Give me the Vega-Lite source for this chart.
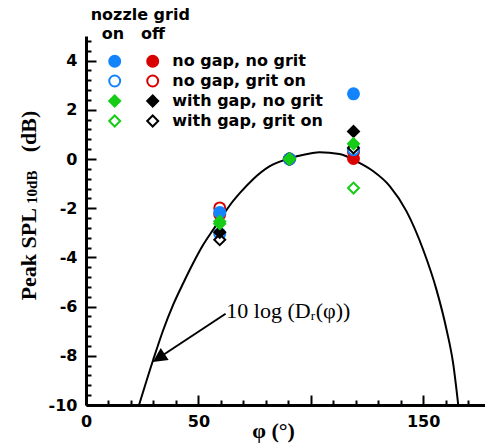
{
  "$schema": "https://vega.github.io/schema/vega-lite/v6.json",
  "width": 399,
  "height": 369,
  "autosize": {"type": "none"},
  "padding": {"left": 86, "top": 36, "right": 0, "bottom": 39},
  "background": "white",
  "config": {"view": {"stroke": null}, "font": "DejaVu Sans"},
  "datasets": {
    "curve": [
      {"phi": 23.6, "spl": -10.0},
      {"phi": 29.9, "spl": -8.16},
      {"phi": 34.4, "spl": -6.94},
      {"phi": 38.8, "spl": -5.92},
      {"phi": 43.3, "spl": -5.04},
      {"phi": 47.7, "spl": -4.23},
      {"phi": 52.2, "spl": -3.48},
      {"phi": 56.6, "spl": -2.87},
      {"phi": 60.0, "spl": -2.42},
      {"phi": 64.0, "spl": -1.88},
      {"phi": 68.5, "spl": -1.38},
      {"phi": 74.1, "spl": -0.84},
      {"phi": 81.6, "spl": -0.3},
      {"phi": 90.5, "spl": 0.02},
      {"phi": 97.4, "spl": 0.18},
      {"phi": 103.8, "spl": 0.27},
      {"phi": 112.7, "spl": 0.2},
      {"phi": 121.6, "spl": -0.16},
      {"phi": 127.8, "spl": -0.5},
      {"phi": 135.2, "spl": -1.11},
      {"phi": 142.6, "spl": -2.13},
      {"phi": 150.0, "spl": -3.69},
      {"phi": 155.9, "spl": -5.31},
      {"phi": 160.4, "spl": -6.94},
      {"phi": 163.3, "spl": -8.29},
      {"phi": 165.6, "spl": -10.0}
    ],
    "points": [
      {"phi": 59.5, "spl": -1.99, "series": "off: no gap, grit on"},
      {"phi": 90.5, "spl": 0.0, "series": "off: no gap, grit on"},
      {"phi": 119, "spl": 0.28, "series": "off: no gap, grit on"},
      {"phi": 59.5, "spl": -2.25, "series": "off: no gap, no grit"},
      {"phi": 90.5, "spl": 0.0, "series": "off: no gap, no grit"},
      {"phi": 119, "spl": 0.02, "series": "off: no gap, no grit"},
      {"phi": 59.5, "spl": -3.04, "series": "on: no gap, grit on"},
      {"phi": 90.5, "spl": 0.0, "series": "on: no gap, grit on"},
      {"phi": 119, "spl": 0.38, "series": "on: no gap, grit on"},
      {"phi": 59.5, "spl": -2.17, "series": "on: no gap, no grit"},
      {"phi": 90.5, "spl": 0.0, "series": "on: no gap, no grit"},
      {"phi": 119, "spl": 2.65, "series": "on: no gap, no grit"},
      {"phi": 59.5, "spl": -3.28, "series": "off: with gap, grit on"},
      {"phi": 90.5, "spl": 0.0, "series": "off: with gap, grit on"},
      {"phi": 119, "spl": 0.45, "series": "off: with gap, grit on"},
      {"phi": 59.5, "spl": -2.98, "series": "off: with gap, no grit"},
      {"phi": 90.5, "spl": 0.0, "series": "off: with gap, no grit"},
      {"phi": 119, "spl": 1.12, "series": "off: with gap, no grit"},
      {"phi": 59.5, "spl": -2.54, "series": "on: with gap, grit on"},
      {"phi": 90.5, "spl": 0.0, "series": "on: with gap, grit on"},
      {"phi": 119, "spl": -1.18, "series": "on: with gap, grit on"},
      {"phi": 59.5, "spl": -2.63, "series": "on: with gap, no grit"},
      {"phi": 90.5, "spl": 0.0, "series": "on: with gap, no grit"},
      {"phi": 119, "spl": 0.62, "series": "on: with gap, no grit"}
    ]
  },
  "layer": [
    {
      "data": {"name": "curve"},
      "mark": {"type": "line", "color": "black", "strokeWidth": 2, "interpolate": "monotone", "clip": true},
      "encoding": {
        "x": {
          "field": "phi",
          "type": "quantitative",
          "scale": {"domain": [0, 177.5], "nice": false, "zero": false},
          "axis": {
            "values": [0, 10, 20, 30, 40, 50, 60, 70, 80, 90, 100, 110, 120, 130, 140, 150, 160, 170],
            "tickCount": 200,
            "labelExpr": "datum.value == 0 || datum.value == 50 || datum.value == 150 ? '' + datum.value : ''",
            "labelFlush": false,
            "labelOverlap": false,
            "labelFont": "DejaVu Sans",
            "labelFontWeight": "bold",
            "labelFontSize": 16,
            "labelColor": "black",
            "labelPadding": 18,
            "tickSize": {"condition": {"test": "datum.value % 50 === 0", "value": -10}, "value": -5},
            "tickWidth": 2,
            "tickColor": "black",
            "domainWidth": 3,
            "domainColor": "black",
            "grid": false,
            "title": "φ (°)",
            "titleFont": "Liberation Serif",
            "titleFontSize": 22,
            "titleFontWeight": "bold",
            "titleColor": "black",
            "titleX": 187,
            "titleY": 32,
            "titleAlign": "center",
            "titleBaseline": "alphabetic"
          }
        },
        "y": {
          "field": "spl",
          "type": "quantitative",
          "scale": {"domain": [-10, 5], "nice": false, "zero": false},
          "axis": {
            "values": [-10, -9.6, -9.2, -8.8, -8.4, -8, -7.6, -7.2, -6.8, -6.4, -6, -5.6, -5.2, -4.8, -4.4, -4, -3.6, -3.2, -2.8, -2.4, -2, -1.6, -1.2, -0.8, -0.4, 0, 0.4, 0.8, 1.2, 1.6, 2, 2.4, 2.8, 3.2, 3.6, 4, 4.4, 4.8],
            "tickCount": 200,
            "labelExpr": "abs(datum.value/2 - round(datum.value/2)) < 0.01 ? '' + round(datum.value) : ''",
            "labelFlush": false,
            "labelOverlap": false,
            "labelFont": "DejaVu Sans",
            "labelFontWeight": "bold",
            "labelFontSize": 16,
            "labelColor": "black",
            "labelPadding": 19,
            "tickSize": {"condition": {"test": "abs(datum.value/2 - round(datum.value/2)) < 0.01", "value": -10}, "value": -5},
            "tickWidth": 2,
            "tickColor": "black",
            "domainWidth": 3,
            "domainColor": "black",
            "grid": false,
            "title": null
          }
        }
      }
    },
    {
      "data": {"name": "points"},
      "mark": {"type": "point", "filled": true, "strokeWidth": 2, "size": 120, "opacity": 1},
      "encoding": {
        "x": {"field": "phi", "type": "quantitative"},
        "y": {"field": "spl", "type": "quantitative"},
        "stroke": {
          "field": "series",
          "type": "nominal",
          "scale": {
            "domain": ["on: no gap, no grit", "on: no gap, grit on", "on: with gap, no grit", "on: with gap, grit on", "off: no gap, no grit", "off: no gap, grit on", "off: with gap, no grit", "off: with gap, grit on"],
            "range": ["#1384fb", "#1384fb", "#16cc16", "#16cc16", "#d90000", "#d90000", "#000000", "#000000"]
          },
          "legend": {
            "title": ["nozzle grid", "\u200b\u00a0\u00a0on\u00a0\u00a0\u00a0off"],
            "orient": "none",
            "legendX": 4.7,
            "legendY": -29,
            "columns": 2,
            "padding": 0,
            "titleFont": "DejaVu Sans",
            "titleFontWeight": "bold",
            "titleFontSize": 16,
            "titleColor": "black",
            "titleLineHeight": 19,
            "titlePadding": 11,
            "labelFont": "DejaVu Sans",
            "labelFontWeight": "bold",
            "labelFontSize": 16,
            "labelColor": "black",
            "labelLimit": 300,
            "labelExpr": "substring(datum.label, 0, 3) == 'on:' ? '' : '\u200b\u00a0' + substring(datum.label, 5)",
            "symbolSize": 120,
            "symbolStrokeWidth": 2,
            "symbolOffset": 16,
            "labelOffset": 6,
            "columnPadding": 0,
            "rowPadding": 0
          }
        },
        "fill": {
          "field": "series",
          "type": "nominal",
          "scale": {
            "domain": ["on: no gap, no grit", "on: no gap, grit on", "on: with gap, no grit", "on: with gap, grit on", "off: no gap, no grit", "off: no gap, grit on", "off: with gap, no grit", "off: with gap, grit on"],
            "range": ["#1384fb", "#ffffff", "#16cc16", "#ffffff", "#d90000", "#ffffff", "#000000", "#ffffff"]
          }
        },
        "shape": {
          "field": "series",
          "type": "nominal",
          "scale": {
            "domain": ["on: no gap, no grit", "on: no gap, grit on", "on: with gap, no grit", "on: with gap, grit on", "off: no gap, no grit", "off: no gap, grit on", "off: with gap, no grit", "off: with gap, grit on"],
            "range": ["circle", "circle", "diamond", "diamond", "circle", "circle", "diamond", "diamond"]
          }
        }
      }
    },
    {
      "data": {"values": [{}]},
      "mark": {"type": "rule", "color": "black", "strokeWidth": 2},
      "encoding": {
        "x": {"datum": 62.1},
        "y": {"datum": -6.29},
        "x2": {"datum": 32.6},
        "y2": {"datum": -8.07}
      }
    },
    {
      "data": {"values": [{}]},
      "mark": {"type": "point", "shape": "M0,0L-0.8,1.6L0.8,1.6Z", "filled": true, "color": "black", "size": 320, "angle": 236.5, "opacity": 1, "strokeWidth": 0},
      "encoding": {
        "x": {"datum": 29.7},
        "y": {"datum": -8.25}
      }
    },
    {
      "data": {"values": [{}]},
      "mark": {"type": "text", "text": "10 log (Dᵣ(φ))", "font": "Liberation Serif", "fontSize": 22, "align": "left", "baseline": "middle", "color": "black"},
      "encoding": {
        "x": {"datum": 62.4},
        "y": {"datum": -6.17}
      }
    },
    {
      "data": {"values": [{}]},
      "mark": {"type": "text", "text": "Peak SPL", "font": "Liberation Serif", "fontWeight": "bold", "fontSize": 22, "align": "center", "baseline": "alphabetic", "angle": 270, "color": "black"},
      "encoding": {
        "x": {"datum": -22.2},
        "y": {"datum": -3.87}
      }
    },
    {
      "data": {"values": [{}]},
      "mark": {"type": "text", "text": "10dB", "font": "Liberation Serif", "fontWeight": "bold", "fontSize": 15, "align": "center", "baseline": "alphabetic", "angle": 270, "color": "black"},
      "encoding": {
        "x": {"datum": -21.8},
        "y": {"datum": -1.15}
      }
    },
    {
      "data": {"values": [{}]},
      "mark": {"type": "text", "text": "(dB)", "font": "Liberation Serif", "fontWeight": "bold", "fontSize": 22, "align": "center", "baseline": "alphabetic", "angle": 270, "color": "black"},
      "encoding": {
        "x": {"datum": -22.2},
        "y": {"datum": 1.12}
      }
    }
  ]
}
